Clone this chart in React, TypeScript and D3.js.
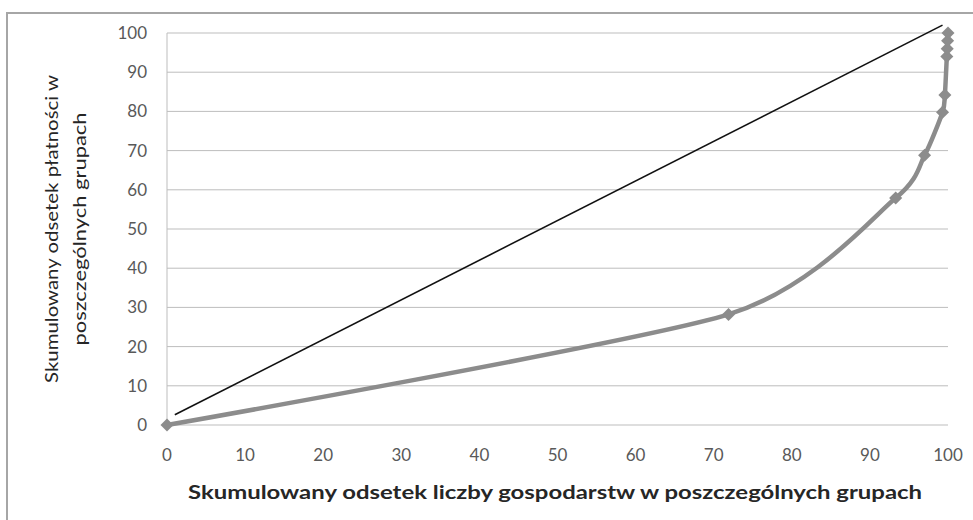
import React from 'react';
import * as d3 from 'd3';

// cumulative % of farms (x) vs cumulative % of payments (y)
const farmsPct = [0, 71.9, 93.3, 97.0, 99.3, 99.6, 99.85, 99.9, 99.95, 100];
const paymentsPct = [0, 28.2, 57.9, 68.8, 79.8, 84.2, 94.0, 96.0, 98.0, 100];

// equality reference line, as drawn in the source
const equalityX = [1, 99.3];
const equalityY = [2.6, 102];

const xTicks = [0, 10, 20, 30, 40, 50, 60, 70, 80, 90, 100];
const yTicks = [0, 10, 20, 30, 40, 50, 60, 70, 80, 90, 100];

const xTitle = 'Skumulowany odsetek liczby gospodarstw w poszczególnych grupach';
const yTitleLines = ['Skumulowany odsetek płatności w', 'poszczególnych grupach'];

const W = 973;
const H = 520;
const margin = { top: 33, right: 25, bottom: 95, left: 167 };

const App = () => {
  const x = d3.scaleLinear().domain([0, 100]).range([margin.left, W - margin.right]);
  const y = d3.scaleLinear().domain([0, 100]).range([H - margin.bottom, margin.top]);

  const series = farmsPct.map((v, i) => [v, paymentsPct[i]] as [number, number]);
  // smoothed line, a bit of tension to avoid overshoot in the dense top part
  const curve = d3.line<[number, number]>()
    .x(d => x(d[0]))
    .y(d => y(d[1]))
    .curve(d3.curveCardinal.tension(0.3))(series);

  const diag = d3.line<[number, number]>()
    .x(d => x(d[0]))
    .y(d => y(d[1]))(equalityX.map((v, i) => [v, equalityY[i]] as [number, number]));

  const marker = d3.symbol(d3.symbolSquare, 85)();
  const font = 'Lato, "Open Sans", sans-serif';

  return (
    <svg width={W} height={H} style={{ position: 'absolute', left: 0, top: 0, background: '#fff' }}>
      <rect x={7} y={13} width={1000} height={600} fill="none" stroke="#a6a6a6" strokeWidth={2} />

      {yTicks.map(t => (
        <line key={'g' + t} x1={x(0)} x2={x(100)} y1={y(t)} y2={y(t)} stroke="#bdbdbd" strokeWidth={1} />
      ))}
      <line x1={x(0)} x2={x(0)} y1={y(0)} y2={y(100)} stroke="#bdbdbd" strokeWidth={1} />

      {yTicks.map(t => (
        <text key={'y' + t} x={147} y={y(t)} dy="0.35em" textAnchor="end"
          fontFamily={font} fontSize={17} fill="#595959">{t}</text>
      ))}
      {xTicks.map(t => (
        <text key={'x' + t} x={x(t)} y={455} dy="0.35em" textAnchor="middle"
          fontFamily={font} fontSize={17} fill="#595959">{t}</text>
      ))}

      <path d={diag ?? ''} fill="none" stroke="#111" strokeWidth={1.6} />
      <path d={curve ?? ''} fill="none" stroke="#8c8c8c" strokeWidth={4.5} strokeLinejoin="round" />
      {series.map((d, i) => (
        <path key={'m' + i} d={marker ?? ''} fill="#8c8c8c"
          transform={`translate(${x(d[0])},${y(d[1])}) rotate(45)`} />
      ))}

      <text x={555} y={499} textAnchor="middle" fontFamily={font} fontSize={19} fontWeight="bold"
        fill="#262626" textLength={734} lengthAdjust="spacingAndGlyphs">{xTitle}</text>

      <g transform="translate(0,229) rotate(-90)">
        <text x={0} y={58} textAnchor="middle" fontFamily={font} fontSize={18} fill="#262626"
          textLength={308} lengthAdjust="spacingAndGlyphs">{yTitleLines[0]}</text>
        <text x={0} y={86} textAnchor="middle" fontFamily={font} fontSize={18} fill="#262626"
          textLength={233} lengthAdjust="spacingAndGlyphs">{yTitleLines[1]}</text>
      </g>
    </svg>
  );
};

export default App;
